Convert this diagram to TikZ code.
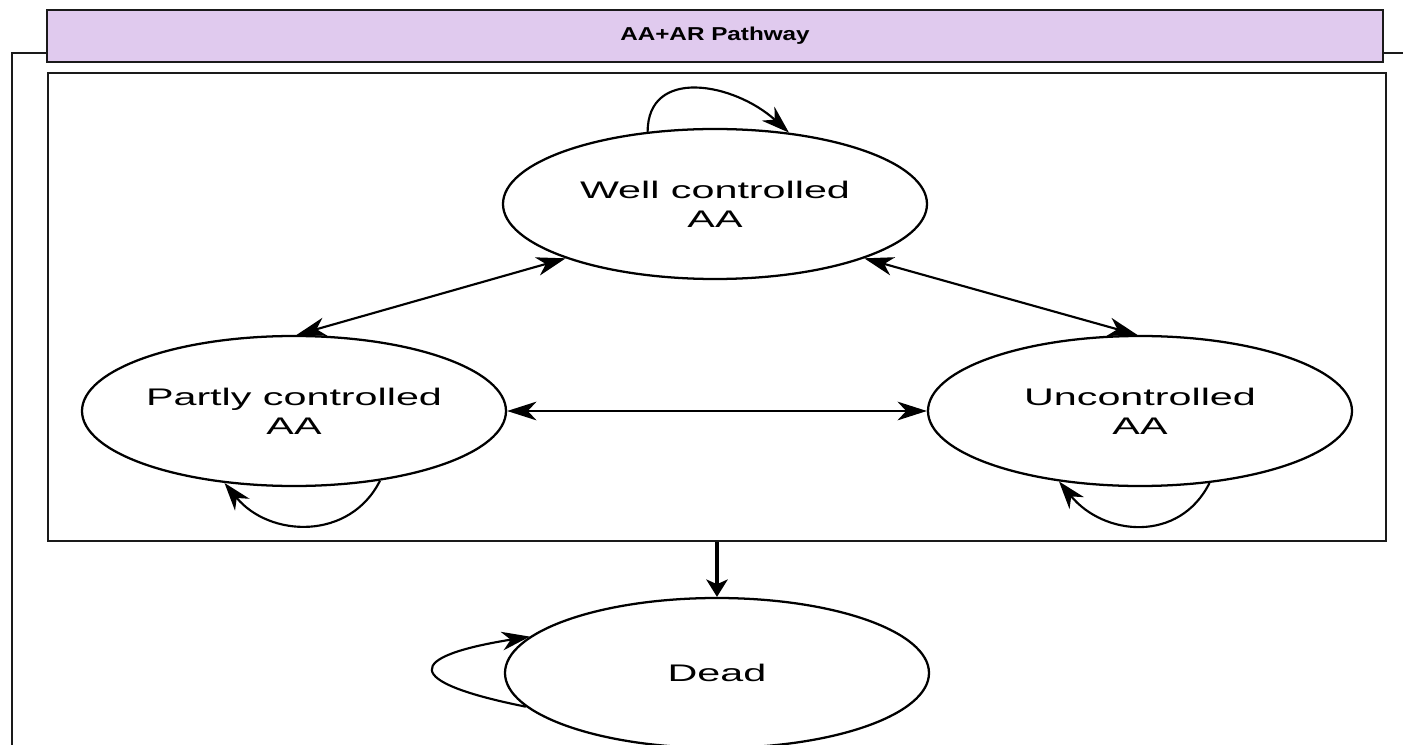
\documentclass[tikz,border=0pt]{standalone}
\usepackage{fontspec}
\newfontfamily\statefont[FakeStretch=1.72]{Liberation Sans}
\newfontfamily\lanefont[FakeStretch=1.3]{Liberation Sans}
\usepackage{xcolor}
\usepackage{tikz}
\usetikzlibrary{arrows.meta,shapes.geometric}
\definecolor{lanefill}{RGB}{224,202,238}
\definecolor{laneline}{RGB}{26,26,26}
\tikzset{
  statenode/.style={
    draw,
    ellipse,
    line width=1.7pt,
    align=center,
    inner sep=0pt,
    minimum width=318pt,
    minimum height=112.5pt,
    font=\statefont\fontsize{18}{21.75}\selectfont
  },
  lanetitle/.style={
    draw=laneline,
    fill=lanefill,
    line width=2.1pt,
    minimum width=1002pt,
    minimum height=39pt,
    font=\lanefont\bfseries\fontsize{14}{16}\selectfont
  },
  groupbox/.style={
    draw=laneline,
    line width=1.9pt,
    minimum width=1003.5pt,
    minimum height=351pt
  },
  selfloop/.style={
    draw,
    line width=1.6pt,
    -{Stealth[length=21pt,width=14pt,inset=6.5pt]}
  },
  every edge/.style={draw, line width=1.6pt}
}

\begin{document}
\begin{tikzpicture}[x=0.75pt,y=-0.75pt]
  \useasboundingbox (0,0) rectangle (1403,745);
  \clip (0,0) rectangle (1403,745);
  \draw[laneline, line width=1.6pt] (12,760) |- (1420,53);

  \node[lanetitle] (title) at (715,36) {AA+AR Pathway};
  \node[groupbox] (group) at (717,307) {};

  \node[statenode] (well) at (715,204) {Well controlled\\AA};
  \node[statenode] (partly) at (294,411) {Partly controlled\\AA};
  \node[statenode] (unctrl) at (1140,411) {Uncontrolled\\AA};
  \node[statenode] (dead) at (717,673) {Dead};

  \path (well.200) edge[{Stealth[length=22pt,width=14pt,inset=6.5pt]}-{Stealth[length=22pt,width=14pt,inset=6.5pt]}] (partly.88)
        (well.340.5) edge[{Stealth[length=22pt,width=14pt,inset=6.5pt]}-{Stealth[length=22pt,width=14pt,inset=6.5pt]}] (unctrl.92)
        (partly.east) edge[{Stealth[length=22pt,width=14pt,inset=6.5pt]}-{Stealth[length=22pt,width=14pt,inset=6.5pt]}] (unctrl.west)
        (group.south) edge[line width=2.6pt, -{Stealth[length=13pt,width=16pt,inset=3.5pt]}] (dead.north);

  % self transitions
  \draw[selfloop] (well.133.7) .. controls +(0,-65) and +(-55,-50) .. (well.44);
  \draw[selfloop] (partly.321) .. controls +(-30,60) and +(45,55) .. (partly.226.7);
  \draw[selfloop] (unctrl.314.7) .. controls +(-30,60) and +(45,55) .. (unctrl.221);
  \draw[selfloop] (dead.190.3) .. controls +(-125,-25) and +(-125,20) .. (dead.169.4);
\end{tikzpicture}
\end{document}
